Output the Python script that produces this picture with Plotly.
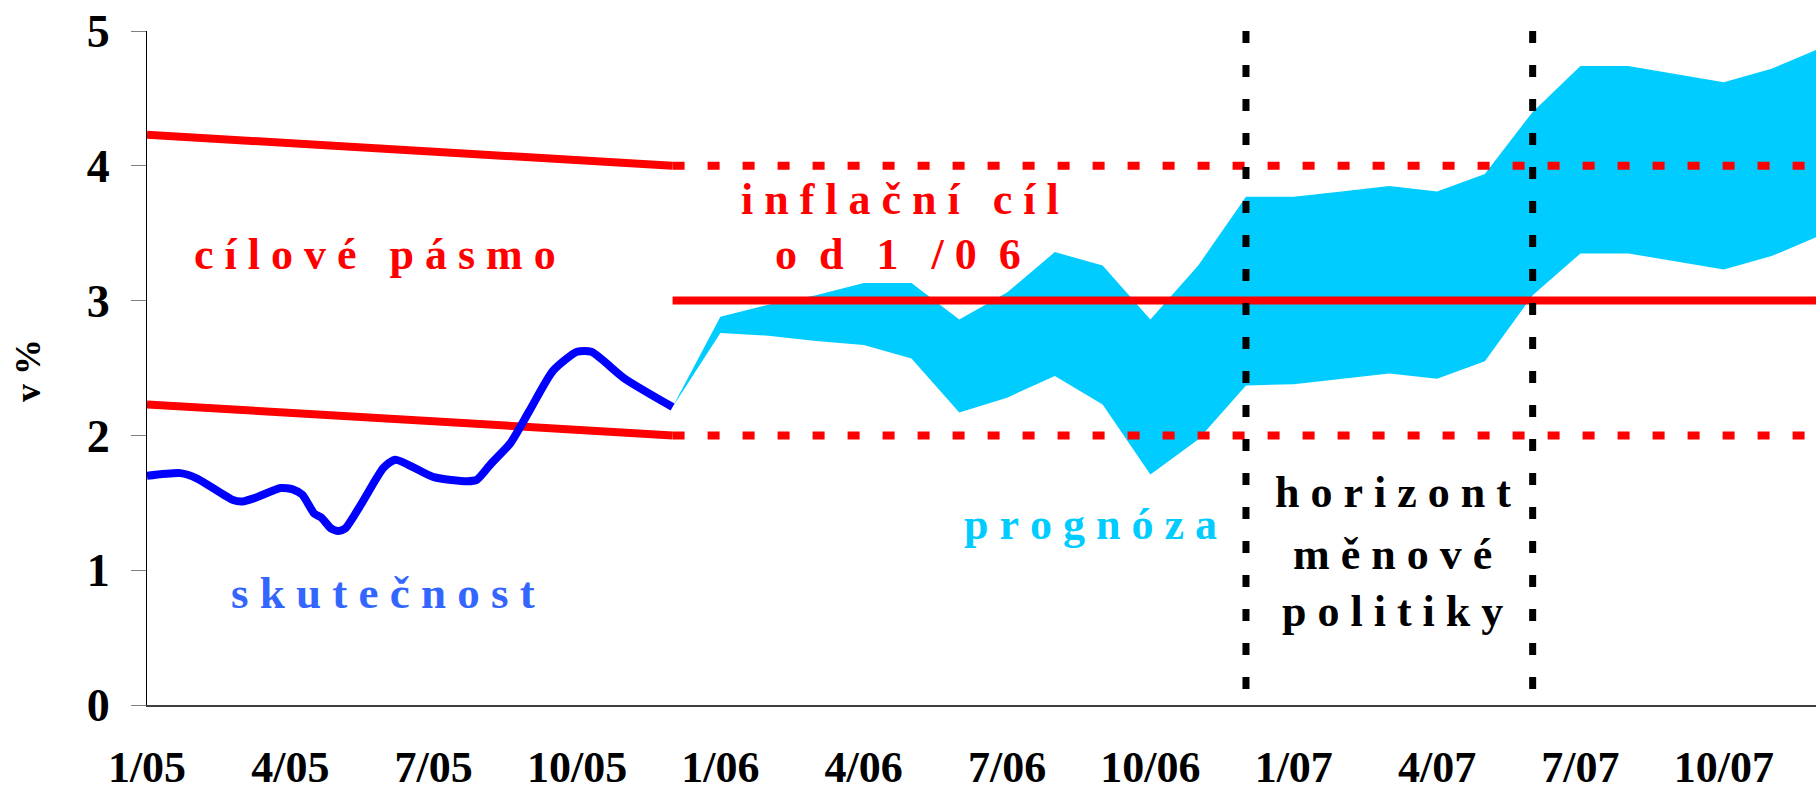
import plotly.graph_objects as go

# ---- data (x = months since 1/2005) ----
tick_pos = [0, 3, 6, 9, 12, 15, 18, 21, 24, 27, 30, 33]
tick_labels = ["1/05", "4/05", "7/05", "10/05", "1/06", "4/06", "7/06",
               "10/06", "1/07", "4/07", "7/07", "10/07"]

actual_x = [0, 0.7, 1.05, 1.8, 2.0, 2.25, 2.8, 3.05, 3.25, 3.5, 3.65, 3.85, 4.0,
            4.15, 4.5, 4.95, 5.2, 6.0, 6.7, 6.9, 7.2, 7.6, 8.0, 8.5, 9.0, 9.3,
            10.0, 11.0]
actual_y = [1.70, 1.72, 1.68, 1.52, 1.51, 1.535, 1.61, 1.60, 1.56, 1.42, 1.39,
            1.31, 1.29, 1.31, 1.50, 1.76, 1.82, 1.69, 1.66, 1.67, 1.79, 1.94,
            2.18, 2.48, 2.62, 2.62, 2.42, 2.21]

fan_x = list(range(11, 36))
fan_upper = [2.21, 2.88, 2.97, 3.04, 3.13, 3.13, 2.86, 3.06, 3.36, 3.26, 2.86,
             3.26, 3.77, 3.77, 3.81, 3.85, 3.81, 3.94, 4.40, 4.74, 4.74, 4.68,
             4.62, 4.72, 4.87]
fan_lower = [2.21, 2.76, 2.74, 2.70, 2.67, 2.57, 2.17, 2.28, 2.44, 2.23, 1.71,
             1.97, 2.37, 2.38, 2.42, 2.46, 2.42, 2.55, 3.04, 3.35, 3.35, 3.29,
             3.23, 3.33, 3.48]

band_x = [0, 11]
band_upper = [4.23, 4.0]
band_lower = [2.23, 2.0]

target_x = [11, 35]
target_mid = [3.0, 3.0]
target_upper = [4.0, 4.0]
target_lower = [2.0, 2.0]

horizon_x = [23, 29]
vline_y = [5, 0]

RED = "#FF0000"
BLUE = "#0000FF"
CYAN = "#00CCFF"
FONT = "Liberation Serif, Times New Roman, serif"

fig = go.Figure()

# fan chart band
fig.add_trace(go.Scatter(
    x=fan_x + fan_x[::-1], y=fan_upper + fan_lower[::-1],
    fill="toself", fillcolor=CYAN, line=dict(width=0, color=CYAN),
    mode="lines", hoverinfo="skip"))

# tolerance band (declining)
for yy in (band_upper, band_lower):
    fig.add_trace(go.Scatter(x=band_x, y=yy, mode="lines",
                             line=dict(color=RED, width=8)))

# new target
fig.add_trace(go.Scatter(x=target_x, y=target_mid, mode="lines",
                         line=dict(color=RED, width=8)))
for yy in (target_upper, target_lower):
    fig.add_trace(go.Scatter(x=target_x, y=yy, mode="lines",
                             line=dict(color=RED, width=8, dash="12px,23px")))

# actual inflation
fig.add_trace(go.Scatter(x=actual_x, y=actual_y, mode="lines",
                         line=dict(color=BLUE, width=8, shape="spline",
                                   smoothing=0.6)))

# policy horizon
for hx in horizon_x:
    fig.add_trace(go.Scatter(x=[hx, hx], y=vline_y, mode="lines",
                             line=dict(color="black", width=7,
                                       dash="12px,22px")))

NB = "\u00a0"


def sp(s):
    return s.replace(" ", NB)


def ann(text, x, y, color, size=44):
    fig.add_annotation(x=x, y=y, xref="x", yref="y", text=sp(text),
                       showarrow=False, xanchor="center", yanchor="middle",
                       font=dict(family=FONT, size=size, color=color,
                                 weight="bold"))


ann("c í l o v é   p á s m o", 4.77, 3.34, RED)
ann("i n f l a č n í   c í l", 15.75, 3.75, RED)
ann("o  d   1   / 0  6", 15.72, 3.34, RED)
ann("s k u t e č n o s t", 4.93, 0.83, "#3366FF", 45)
ann("p r o g n ó z a", 19.74, 1.34, CYAN)
ann("h o r i z o n t", 26.08, 1.58, "black")
ann("m ě n o v é", 26.07, 1.12, "black")
ann("p o l i t i k y", 26.07, 0.69, "black")

fig.add_annotation(x=-0.0713, y=0.4955, xref="paper", yref="paper",
                   text="v %", showarrow=False, textangle=-90,
                   xanchor="center", yanchor="middle",
                   font=dict(family=FONT, size=36, color="black",
                             weight="bold"))

fig.update_layout(
    width=1816, height=792,
    margin=dict(l=147, r=0, t=31, b=87),
    paper_bgcolor="white", plot_bgcolor="white",
    showlegend=False,
    xaxis=dict(range=[0, 34.93], tickmode="array", tickvals=tick_pos,
               ticktext=tick_labels, ticks="", showline=True,
               linecolor="#404040", linewidth=2, showgrid=False,
               zeroline=False, ticklabelstandoff=22, automargin=False,
               tickfont=dict(family=FONT, size=44, color="black",
                             weight="bold")),
    yaxis=dict(range=[0, 5], dtick=1, tick0=0, ticks="outside", ticklen=15,
               tickcolor="#808080", showline=True, linecolor="black",
               linewidth=1, showgrid=False, zeroline=False,
               ticklabelstandoff=12, automargin=False,
               tickfont=dict(family=FONT, size=46, color="black",
                             weight="bold")),
)

fig.write_html(
    "out.html",
    config={"displayModeBar": False},
    post_script="document.body.style.margin='0';"
                "document.body.style.overflow='hidden';")
